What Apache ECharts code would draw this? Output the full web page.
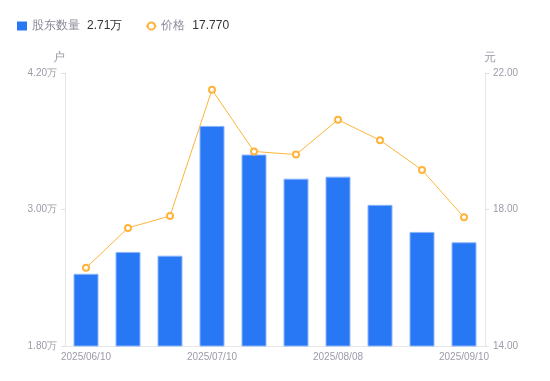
<!DOCTYPE html>
<html>
<head>
<meta charset="utf-8">
<script src="https://cdn.jsdelivr.net/npm/echarts@6/dist/echarts.min.js"></script>
<style>
html, body { margin: 0; padding: 0; background: #fff; }
#main { width: 550px; height: 381px; }
</style>
</head>
<body>
<div id="main"></div>
<script>
// dates of each report
var dates = ['2025/06/10', '2025/06/20', '2025/06/30', '2025/07/10', '2025/07/20',
             '2025/07/31', '2025/08/08', '2025/08/20', '2025/08/29', '2025/09/10'];
// holders, in 万户
var holders = [2.435, 2.627, 2.594, 3.735, 3.483, 3.271, 3.289, 3.041, 2.803, 2.712];
// price, 元
var prices = [16.29, 17.46, 17.81, 21.51, 19.70, 19.61, 20.63, 20.03, 19.16, 17.77];

var leftTicks = [1.8, 3.0, 4.2];
var rightTicks = [14, 18, 22];

var grey = '#9b9ba8';

var myChart = echarts.init(document.getElementById('main'));

var option = {
    animation: false,
    legend: {
        left: 12,
        top: 15,
        itemGap: 23,
        itemWidth: 10,
        itemHeight: 9,
        data: [
            { name: '股东数量', icon: 'rect', itemStyle: { borderWidth: 0 } },
            { name: '价格' }
        ],
        formatter: function (name) {
            if (name == '股东数量') {
                return '{n|' + name + '}{v|' + holders[holders.length - 1].toFixed(2) + '万}';
            }
            return '{n|' + name + '}{v|' + prices[prices.length - 1].toFixed(3) + '}';
        },
        textStyle: {
            rich: {
                n: { fontSize: 12, color: '#8a8a99', padding: [0, 7, 0, 0] },
                v: { fontSize: 12, color: '#333' }
            }
        }
    },
    grid: {
        left: 65,
        right: 65,
        top: 73,
        bottom: 35
    },
    xAxis: {
        type: 'category',
        data: dates,
        axisLine: { lineStyle: { color: '#e6e6e6' } },
        axisTick: { show: false },
        axisLabel: {
            interval: 2,
            color: grey,
            fontSize: 10,
            margin: 6
        }
    },
    yAxis: [{
        type: 'value',
        name: '户',
        nameGap: 9,
        min: leftTicks[0],
        max: leftTicks[2],
        interval: leftTicks[1] - leftTicks[0],
        nameTextStyle: { color: grey, fontSize: 12, padding: [0, 12, 0, 0] },
        axisLine: { show: true, lineStyle: { color: '#e6e6e6' } },
        axisTick: { show: true, length: 4, lineStyle: { color: '#e0e0e0' } },
        splitLine: { show: false },
        axisLabel: {
            color: grey,
            fontSize: 10,
            margin: 8,
            formatter: function (v) { return v.toFixed(2) + '万'; }
        }
    }, {
        type: 'value',
        name: '元',
        nameGap: 9,
        min: rightTicks[0],
        max: rightTicks[2],
        interval: rightTicks[1] - rightTicks[0],
        nameTextStyle: { color: grey, fontSize: 12, padding: [0, 0, 0, 10] },
        axisLine: { show: true, lineStyle: { color: '#e6e6e6' } },
        axisTick: { show: true, length: 4, lineStyle: { color: '#e0e0e0' } },
        splitLine: { show: false },
        axisLabel: {
            color: grey,
            fontSize: 10,
            margin: 8,
            formatter: function (v) { return v.toFixed(2); }
        }
    }],
    series: [{
        name: '股东数量',
        type: 'bar',
        data: holders,
        barWidth: 25,
        itemStyle: {
            color: '#2878f5',
            borderColor: '#8cb6fa',
            borderWidth: 1
        }
    }, {
        name: '价格',
        type: 'line',
        yAxisIndex: 1,
        data: prices,
        symbol: 'emptyCircle',
        symbolSize: 6,
        lineStyle: { color: '#ffb43c', width: 1 },
        itemStyle: { color: '#ffb43c', borderWidth: 2 }
    }]
};

myChart.setOption(option);
</script>
</body>
</html>
